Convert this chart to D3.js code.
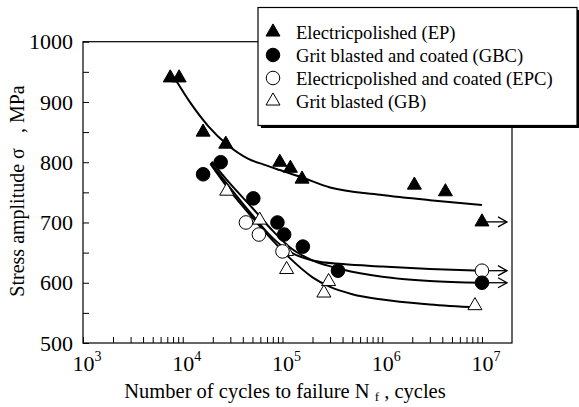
<!DOCTYPE html>
<html><head><meta charset="utf-8">
<script src="https://cdn.jsdelivr.net/npm/d3@7"></script>
<style>
html,body{margin:0;padding:0;background:#fff;}
</style></head>
<body><svg id="c" width="579" height="407" font-family="'Liberation Serif', 'Times New Roman', Times, serif"></svg>
<script>
// ---- data ----
const seriesNames = ["Electricpolished (EP)", "Grit blasted and coated (GBC)", "Electricpolished and coated (EPC)", "Grit blasted (GB)"];
const epPoints  = [[7.5e3,940],[9.2e3,940],[1.6e4,850],[2.7e4,830],[9.4e4,800],[1.2e5,790],[1.57e5,772],[2.1e6,762],[4.3e6,751],[1e7,701]];
const gbcPoints = [[1.6e4,780],[2.4e4,800],[5.1e4,740],[8.9e4,700],[1.04e5,680],[1.6e5,660],[3.6e5,620],[1e7,600]];
const epcPoints = [[4.3e4,700],[5.8e4,680],[1e5,652],[1e7,620]];
const gbPoints  = [[2.76e4,752],[5.9e4,704],[1.1e5,652],[1.1e5,622],[2.9e5,602],[2.6e5,583],[8.5e6,562]];
const epCurve  = [[8.7e3,934],[1.2e4,898],[1.8e4,860],[2.8e4,829],[4.5e4,806],[6.5e4,796],[9.4e4,787],[1.5e5,776],[3e5,758],[9.5e5,746],[3e6,737],[1e7,729]];
const gbcCurve = [[1.95e4,801],[3e4,764],[5e4,724],[8e4,686],[1.2e5,658],[2e5,637],[4e5,622],[1e6,610],[3e6,603],[1e7,600]];
const epcCurve = [[1.9e4,799],[3e4,757],[5e4,712],[8e4,674],[1.2e5,651],[2e5,637],[4e5,631],[1e6,627],[3e6,623],[1e7,620]];
const gbCurve  = [[1.9e4,797],[3e4,752],[5e4,708],[8e4,670],[1.2e5,640],[2e5,609],[3e5,593],[5e5,581],[1e6,572],[3e6,564],[9e6,559]];
const runouts = [[1e7,701],[1e7,620],[1e7,600]];
const yTicks = [500,600,700,800,900,1000];
const yMinor = [550,650,750,850,950];
const xDecades = [3,4,5,6,7];

// ---- layout ----
const svg = d3.select("#c");
const x = d3.scaleLog().domain([1e3, 2e7]).range([83, 512]);
const y = d3.scaleLinear().domain([500, 1000]).range([343, 41.7]);

svg.append("rect").attr("x",83).attr("y",41.7).attr("width",512-83).attr("height",343-41.7)
  .attr("fill","none").attr("stroke","#000").attr("stroke-width",1.2);

const yAxis = d3.axisRight(y).tickValues(yTicks.concat(yMinor)).tickSize(6).tickFormat("");
svg.append("g").attr("transform","translate(83,0)").call(yAxis)
  .call(g=>g.select(".domain").remove()).selectAll("line").attr("stroke","#000");
yTicks.forEach(v=>{
  svg.append("text").attr("x",73).attr("y",y(v)).attr("dy","0.35em").attr("text-anchor","end")
    .attr("font-size",22).text(v);
});

const xTickVals = [];
for (let d=3; d<7; d++) for (let m=1; m<10; m++) xTickVals.push(m*Math.pow(10,d));
xTickVals.push(1e7);
const xAxis = d3.axisTop(x).tickValues(xTickVals).tickSize(6).tickFormat("");
svg.append("g").attr("transform","translate(0,343)").call(xAxis)
  .call(g=>g.select(".domain").remove()).selectAll("line").attr("stroke","#000");
xDecades.forEach(d=>{
  const t = svg.append("text").attr("x",x(Math.pow(10,d))+4).attr("y",371).attr("text-anchor","middle").attr("font-size",22);
  t.append("tspan").text("10");
  t.append("tspan").attr("font-size",14).attr("dy",-10).text(d);
});

const xt = svg.append("text").attr("x",285).attr("y",398).attr("text-anchor","middle").attr("font-size",20.5).attr("xml:space","preserve");
xt.append("tspan").text("Number of cycles to failure N ");
xt.append("tspan").attr("font-size",13).attr("dy",3).text("f");
xt.append("tspan").attr("dy",-3).text(" , cycles");
svg.append("text").attr("transform","translate(24,191) rotate(-90)").attr("text-anchor","middle")
  .attr("font-size",20).attr("xml:space","preserve").text("Stress amplitude \u03c3   , MPa");

const line = d3.line().x(d=>x(d[0])).y(d=>y(d[1])).curve(d3.curveMonotoneX);
[epCurve,gbcCurve,epcCurve,gbCurve].forEach(c=>{
  svg.append("path").attr("d",line(c)).attr("fill","none").attr("stroke","#000").attr("stroke-width",2);
});

runouts.forEach(r=>{
  const x0 = x(r[0]), x1 = 507, yy = y(r[1]);
  svg.append("line").attr("x1",x0).attr("x2",x1).attr("y1",yy).attr("y2",yy).attr("stroke","#000").attr("stroke-width",1.3);
  svg.append("path").attr("d",`M${x1-9},${yy-5}L${x1},${yy}L${x1-9},${yy+5}`).attr("fill","none").attr("stroke","#000").attr("stroke-width",1.3);
});

const tri = d3.symbol().type(d3.symbolTriangle).size(85);
const cir = d3.symbol().type(d3.symbolCircle).size(145);
function drawPts(pts, sym, fill){
  svg.append("g").selectAll("path").data(pts).join("path")
    .attr("transform",d=>`translate(${x(d[0])},${y(d[1])})`)
    .attr("d",sym()).attr("fill",fill).attr("stroke","#000").attr("stroke-width",1);
}
drawPts(gbPoints, tri, "#fff");
drawPts(epcPoints, cir, "#fff");
drawPts(gbcPoints, cir, "#000");
drawPts(epPoints, tri, "#000");

const lg = svg.append("g");
lg.append("rect").attr("x",261).attr("y",10).attr("width",320).attr("height",118).attr("fill","#000");
lg.append("rect").attr("x",258).attr("y",7.5).attr("width",319).attr("height",118).attr("fill","#fff").attr("stroke","#000").attr("stroke-width",1.2);
const legendSyms = [[tri,"#000"],[cir,"#000"],[cir,"#fff"],[tri,"#fff"]];
const legendY = [32,55,78,101];
seriesNames.forEach((n,i)=>{
  lg.append("path").attr("transform",`translate(273,${legendY[i]})`).attr("d",legendSyms[i][0]())
    .attr("fill",legendSyms[i][1]).attr("stroke","#000");
  lg.append("text").attr("x",296).attr("y",legendY[i]).attr("dy","0.35em").attr("font-size",18.6).text(n);
});
</script></body></html>
